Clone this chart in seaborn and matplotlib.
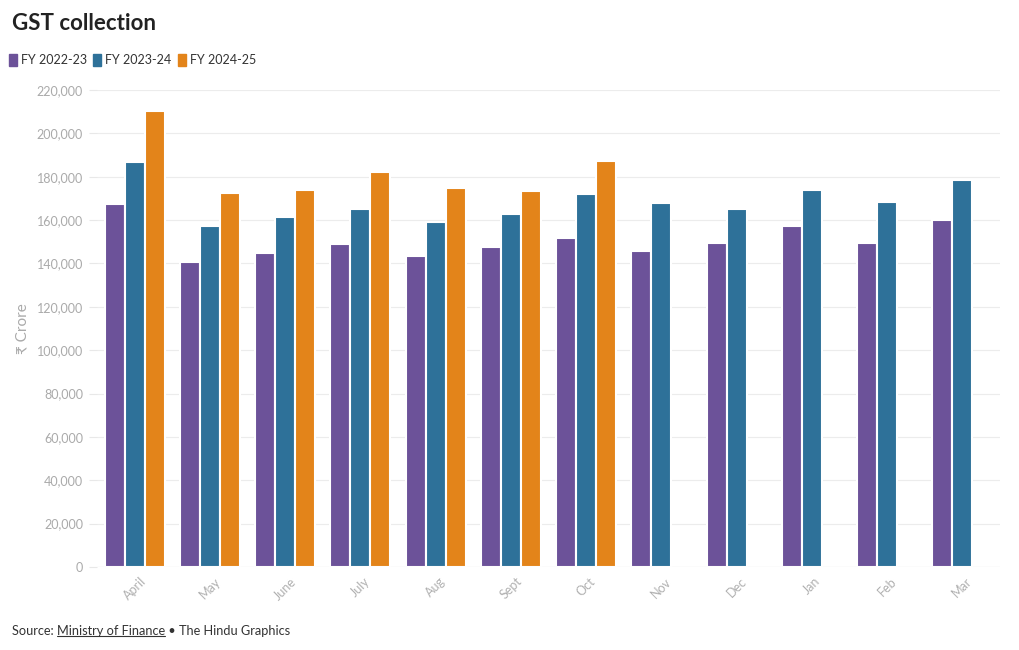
import pandas as pd
import matplotlib
matplotlib.use('Agg')
import matplotlib.pyplot as plt
import matplotlib.patches as mpatches
from matplotlib.lines import Line2D
import seaborn as sb

months = ['April', 'May', 'June', 'July', 'Aug', 'Sept', 'Oct', 'Nov', 'Dec', 'Jan', 'Feb', 'Mar']
fy_2223 = [167500, 140900, 144600, 149000, 143600, 147700, 151700, 145900, 149500, 157500, 149600, 160100]
fy_2324 = [187000, 157100, 161500, 165100, 159100, 162700, 172000, 167900, 164900, 174100, 168300, 178500]
fy_2425 = [210300, 172700, 173800, 182100, 175000, 173200, 187300, None, None, None, None, None]
series = ['FY 2022-23', 'FY 2023-24', 'FY 2024-25']
colors = ['#6C5299', '#2E7199', '#E3841A']

rows = []
for name, vals in zip(series, [fy_2223, fy_2324, fy_2425]):
    for m, v in zip(months, vals):
        rows.append({'month': m, 'fy': name, 'value': v})
df = pd.DataFrame(rows)

sb.set_style('white')
plt.rcParams['font.family'] = ['Lato', 'DejaVu Sans']

fig = plt.figure(figsize=(10.2, 6.5), dpi=100)
ax = fig.add_axes([97 / 1020, 1 - 567 / 650, 903 / 1020, 477 / 650])

sb.barplot(data=df, x='month', y='value', hue='fy', order=months, hue_order=series,
           palette=colors, width=0.8, edgecolor='white', linewidth=1.5,
           saturation=1, legend=False, ax=ax, zorder=3)

ax.set_ylim(0, 220000)
ax.set_yticks(range(0, 220001, 20000))
ax.set_yticklabels([f'{t:,}' for t in range(0, 220001, 20000)], color='#aaaaaa', fontsize=9)
ax.set_xlim(-0.5, 11.5)
ax.set_xticks(range(12))
ax.set_xticklabels(months, rotation=45, ha='center', color='#b0b0b0', fontsize=9)
ax.tick_params(axis='x', length=0, pad=6)
ax.tick_params(axis='y', length=6, color='#e8e8e8', pad=4, left=True)
ax.grid(axis='y', color='#ececec', linewidth=0.8, zorder=0)
for s in ax.spines.values():
    s.set_visible(False)
ax.axhline(0, color='#e4e4e4', linewidth=0.8, zorder=4)
ax.set_xlabel('')
ax.set_ylabel('₹ Crore', color='#aaaaaa', fontsize=11, labelpad=14)
ax.yaxis.set_label_coords(-0.075, 0.5)

fig.text(12 / 1020, 1 - 24 / 650, 'GST collection', fontsize=16, fontweight='bold',
         color='#222222', va='center', ha='left')

handles = [mpatches.FancyBboxPatch((0, 0), 1, 1, boxstyle='round,pad=0.1', color=c) for c in colors]
leg = fig.legend(handles=handles, labels=series, loc='center left',
                 bbox_to_anchor=(4 / 1020, 1 - 60 / 650), ncol=3, frameon=False,
                 fontsize=9, handlelength=0.65, handleheight=1.2, handletextpad=0.3,
                 columnspacing=0.5, borderaxespad=0)
for t in leg.get_texts():
    t.set_color('#333333')

y_src = 1 - 631 / 650
fs = 9.2
t1 = fig.text(12 / 1020, y_src, 'Source: ', fontsize=fs, color='#333333', va='center')
fig.canvas.draw()
r = fig.canvas.get_renderer()
bb = t1.get_window_extent(r)
t2 = fig.text(bb.x1 / 1020, y_src, 'Ministry of Finance', fontsize=fs, color='#333333', va='center')
fig.canvas.draw()
bb2 = t2.get_window_extent(r)
fig.add_artist(Line2D([bb2.x0 / 1020, bb2.x1 / 1020], [(bb2.y0 + 1) / 650] * 2,
                      color='#333333', linewidth=0.8))
fig.text(bb2.x1 / 1020, y_src, ' • The Hindu Graphics', fontsize=fs, color='#333333', va='center')

plt.savefig('out.png', dpi=100)
